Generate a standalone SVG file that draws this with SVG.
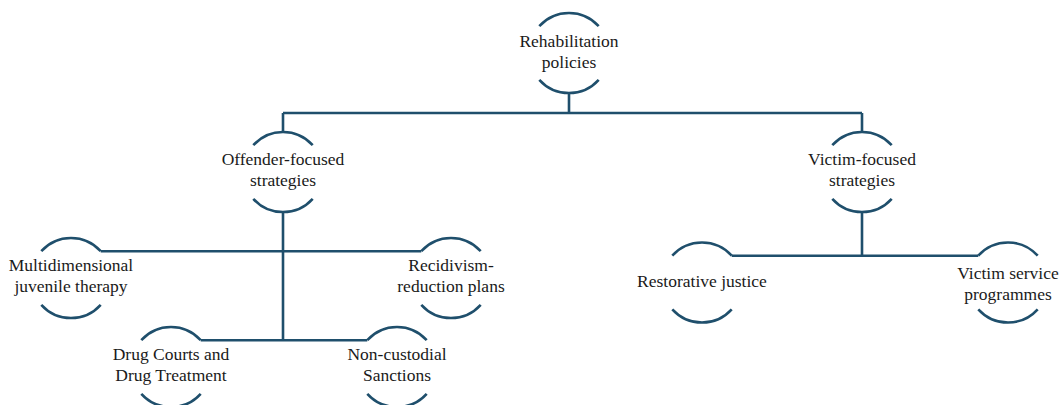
<svg xmlns="http://www.w3.org/2000/svg" width="1061" height="405" viewBox="0 0 1061 405">
<style>
.arc{fill:none;stroke:#1f4f6c;stroke-width:2.6;stroke-linecap:butt}
.con{fill:none;stroke:#1f4f6c;stroke-width:2.6}
.t{font-family:'Liberation Serif','DejaVu Serif',serif;font-size:17.5px;fill:#1a1a1a;text-anchor:middle}
</style>
<rect width="1061" height="405" fill="#ffffff"/>
<g id="connectors">
<path class="con" d="M569 93 V113 M283 113 H862 M283 113 V132 M862 113 V132"/>
<path class="con" d="M283 212 V340.2"/>
<path class="con" d="M100.7 251.2 H421.3"/>
<path class="con" d="M200.7 340.2 H367.3"/>
<path class="con" d="M862 212 V255.7 M731.7 255.7 H978.3"/>
</g>
<g id="rehabilitation">
<path class="arc" d="M539.3 26.2 A40 40 0 0 1 598.7 26.2 M539.3 79.8 A40 40 0 0 0 598.7 79.8"/>
<text class="t" font-family="Liberation Serif, serif" x="569" y="47">Rehabilitation</text>
<text class="t" font-family="Liberation Serif, serif" x="569" y="68">policies</text>
</g>
<g id="offender">
<path class="arc" d="M253.3 145.2 A40 40 0 0 1 312.7 145.2 M253.3 198.8 A40 40 0 0 0 312.7 198.8"/>
<text class="t" x="283" y="165">Offender-focused</text>
<text class="t" x="283" y="186">strategies</text>
</g>
<g id="victim">
<path class="arc" d="M832.3 145.2 A40 40 0 0 1 891.7 145.2 M832.3 198.8 A40 40 0 0 0 891.7 198.8"/>
<text class="t" x="862" y="165">Victim-focused</text>
<text class="t" x="862" y="186">strategies</text>
</g>
<g id="multidimensional">
<path class="arc" d="M41.3 251.2 A40 40 0 0 1 100.7 251.2 M41.3 304.8 A40 40 0 0 0 100.7 304.8"/>
<text class="t" x="71" y="271">Multidimensional</text>
<text class="t" x="71" y="292">juvenile therapy</text>
</g>
<g id="recidivism">
<path class="arc" d="M421.3 251.2 A40 40 0 0 1 480.7 251.2 M421.3 304.8 A40 40 0 0 0 480.7 304.8"/>
<text class="t" x="451" y="271">Recidivism-</text>
<text class="t" x="451" y="292">reduction plans</text>
</g>
<g id="drug">
<path class="arc" d="M141.3 340.2 A40 40 0 0 1 200.7 340.2 M141.3 393.8 A40 40 0 0 0 200.7 393.8"/>
<text class="t" x="171" y="360">Drug Courts and</text>
<text class="t" x="171" y="381">Drug Treatment</text>
</g>
<g id="noncustodial">
<path class="arc" d="M367.3 340.2 A40 40 0 0 1 426.7 340.2 M367.3 393.8 A40 40 0 0 0 426.7 393.8"/>
<text class="t" x="397" y="360">Non-custodial</text>
<text class="t" x="397" y="381">Sanctions</text>
</g>
<g id="restorative">
<path class="arc" d="M672.3 255.7 A40 40 0 0 1 731.7 255.7 M672.3 309.3 A40 40 0 0 0 731.7 309.3"/>
<text class="t" x="702" y="287">Restorative justice</text>
</g>
<g id="victimservice">
<path class="arc" d="M978.3 255.7 A40 40 0 0 1 1037.7 255.7 M978.3 309.3 A40 40 0 0 0 1037.7 309.3"/>
<text class="t" x="1008" y="279">Victim service</text>
<text class="t" x="1008" y="300">programmes</text>
</g>
</svg>
